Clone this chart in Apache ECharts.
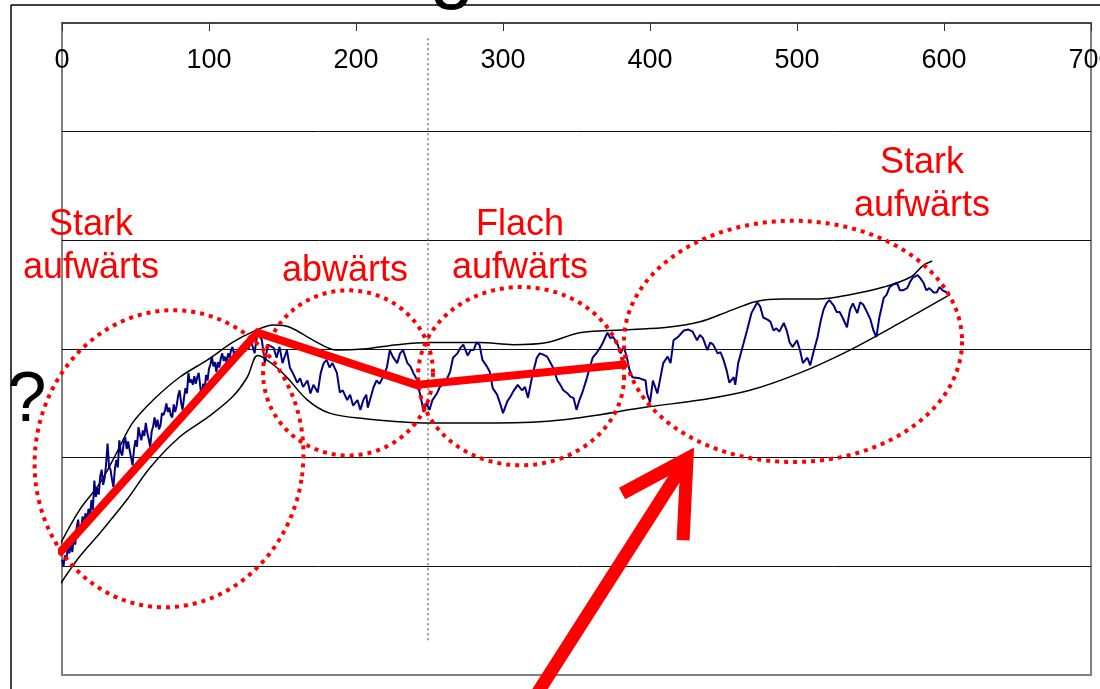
<!DOCTYPE html>
<html><head><meta charset="utf-8">
<script src="https://cdn.jsdelivr.net/npm/echarts@6/dist/echarts.min.js"></script>
<style>html,body{margin:0;padding:0;background:#fff;overflow:hidden}#c{width:1100px;height:689px}</style>
</head><body><div id="c"></div>
<script>
// ---- data (x = Tage, y = Kursniveau, arbitrary units) ----
const xAxisMin = 0, xAxisMax = 700, xAxisStep = 100;
const yAxisMin = 0, yAxisMax = 60, yAxisStep = 10;

const price = [
 [0,10.6],[1,10.0],[2,11.0],[3,10.6],[4,11.8],[5,11.2],[6,12.2],[7,11.3],[8,12.6],[9,12.0],
 [10,13.6],[11,14.3],[12,12.9],[13,13.3],[14,14.6],[15,13.8],[16,14.9],[17,14.0],[18,15.3],[19,14.4],
 [20,16.1],[21,15.2],[22,17.9],[23,16.4],[24,17.2],[25,16.6],[26,18.3],[27,18.9],[28,17.5],[29,18.1],
 [30,19.4],[31,21.3],[32,19.2],[33,18.9],[34,18.0],[35,17.3],[36,19.0],[37,19.8],[38,19.1],[39,21.6],
 [40,20.5],[41,20.2],[42,21.4],[43,21.9],[44,20.8],[45,21.5],[46,20.7],[47,20.0],[48,19.3],[49,20.8],
 [50,21.6],[51,21.0],[52,22.8],[53,22.1],[54,21.6],[55,22.5],[56,22.0],[57,23.2],[58,22.3],[59,21.7],
 [60,21.0],[61,22.4],[62,22.9],[63,23.7],[64,22.8],[65,23.5],[66,22.6],[67,23.0],[68,24.1],[69,23.9],
 [70,24.3],[71,25.0],[72,24.2],[73,24.6],[74,23.9],[75,23.7],[76,24.9],[77,24.2],[78,24.8],[79,25.7],
 [80,26.2],[81,25.1],[82,24.4],[83,25.5],[84,26.4],[85,25.9],[86,27.8],[87,26.9],[88,27.2],[89,26.7],
 [90,27.5],[91,26.8],[92,27.4],[93,27.8],[94,26.6],[95,25.6],[96,26.8],[97,26.2],[98,27.6],[99,27.1],
 [100,28.2],[101,28.6],[102,29.3],[103,28.4],[104,28.8],[105,27.9],[106,28.8],[107,28.3],[108,29.1],[109,29.6],
 [110,28.9],[111,29.3],[112,28.7],[113,29.6],[114,29.2],[115,29.9],[116,30.2],[117,29.5],[118,29.8],[119,29.2],
 [120,30.0],[121,29.6],[122,30.3],[123,29.9],[124,30.6],[125,29.8],[126,30.4],[127,30.0],[128,30.9],[129,30.8],
 [130,30.1],[131,29.6],[132,30.6],[133,31.5],
 [136,30.8],[138,28.7],[140,30.4],[144,30.1],[146,29.2],[148,30.2],[150,28.7],[153,29.9],[155,28.3],[157,27.8],
 [160,26.9],[162,27.3],[164,26.5],[167,27.1],[169,25.9],[171,26.7],[174,26.0],[176,27.8],[178,28.7],[180,29.0],
 [182,28.3],[184,28.7],[187,27.8],[189,26.0],[191,26.2],[194,25.3],[196,25.8],[198,24.8],[201,25.3],[203,24.4],
 [205,25.3],[207,25.8],[208,24.6],[212,26.5],[214,27.1],[216,26.8],[218,27.3],[221,28.3],[223,29.9],[225,29.3],
 [228,28.7],[230,29.6],[232,29.9],[235,28.7],[237,28.4],[239,27.8],[241,27.3],[244,25.6],[246,24.2],[248,25.0],
 [250,24.4],[252,25.3],[255,25.9],[257,26.5],
 [261,27.0],[264,27.9],[266,29.2],[269,29.6],[271,30.1],[273,30.4],[276,29.4],[278,29.9],[280,29.9],[282,30.6],
 [284,30.4],[286,29.0],[289,28.4],[291,27.9],[293,26.4],[296,25.8],[298,25.0],[300,24.1],[303,25.2],[305,25.6],
 [307,26.1],[310,26.7],[313,26.2],[315,26.5],[317,25.5],[320,27.6],[323,29.2],[325,29.6],[327,29.5],[330,29.3],
 [332,28.8],[334,28.3],[337,27.1],[339,26.7],[341,26.2],[344,25.9],[346,25.6],[348,25.5],[350,24.4],[352,25.3],
 [354,26.0],[357,27.3],[359,28.3],[361,29.2],[364,29.7],[366,30.1],[368,30.6],[371,31.5],[373,31.0],[375,31.1],
 [378,30.4],[380,29.6],[382,30.2],[384,29.4],[386,28.1],[388,27.4],[393,27.3],[397,27.1],[398,25.9],[400,25.1],
 [402,27.1],[405,25.9],[407,27.3],[409,28.7],[412,29.3],[414,28.7],[416,30.8],[419,31.1],[423,31.7],[426,31.8],
 [429,31.6],[432,30.8],[434,31.3],[436,31.0],[439,29.9],[441,30.6],[443,30.4],[446,29.6],[448,29.7],[450,29.0],
 [452,28.1],[454,26.9],[457,27.4],[458,26.7],[460,28.7],[463,30.2],[466,31.7],[469,33.3],[473,34.3],[475,33.9],
 [477,32.9],[480,32.7],[482,32.5],[484,31.7],[486,31.9],[488,31.6],[491,32.4],[493,31.7],[495,30.6],[497,30.2],
 [500,30.8],[502,29.9],[504,28.7],[507,29.2],[509,28.5],[511,29.6],[514,31.1],[516,32.5],[518,33.6],[520,34.2],
 [522,34.5],[525,34.0],[527,33.4],[529,33.4],[531,32.9],[534,32.0],[536,33.6],[538,34.2],[541,33.3],[543,34.3],
 [545,34.1],[548,33.3],[550,32.7],[552,31.7],[554,31.1],[556,32.9],[559,34.7],[561,35.0],[563,35.7],[565,35.9],
 [568,36.1],[570,35.4],[572,35.4],[575,35.6],[577,36.2],[579,36.6],[582,36.8],[584,36.5],[586,36.1],[588,35.4],
 [590,35.6],[593,35.2],[595,35.2],[597,35.7],[599,35.4],[602,35.2]
];

const upperBand = [
 [-1,12.1],[12,15.2],[26,17.7],[37,20.4],[48,23.2],[62,25.3],[80,27.4],[99,29.0],[116,30.6],[130,31.6],
 [144,32.2],[155,32.0],[171,30.8],[187,29.9],[205,30.0],[228,30.4],[250,30.6],[284,30.6],[307,30.4],[330,30.6],
 [352,31.5],[371,31.7],[388,31.8],[412,32.0],[434,32.5],[456,33.6],[473,34.4],[490,34.6],[514,34.6],[536,35.0],
 [559,35.7],[577,36.6],[586,37.7],[592,38.1]
];

const lowerBand = [
 [-1,8.4],[12,10.9],[26,13.1],[44,16.1],[60,19.1],[80,21.9],[99,23.7],[116,25.6],[126,27.4],[133,29.4],
 [137,29.2],[146,28.3],[153,27.4],[167,25.3],[182,24.1],[205,23.6],[250,23.2],[296,23.2],[341,23.5],[400,24.7],
 [434,25.3],[468,26.2],[502,27.8],[536,29.9],[570,32.4],[604,35.0]
];

const trendLine = [[-2.5,11.1],[133,31.5],[241,26.7],[384,28.6]];
const splitDay = [[249,58.6],[249,3.0]];

// ellipse: centre x, centre y, radius x, radius y, tilt (deg)
const ellipses = [
 [72.8,19.9,91.2,13.7,9],
 [194.6,27.8,57.8,7.6,0],
 [312.3,27.5,70.1,8.2,0],
 [497.3,30.7,115.0,11.1,0]
];

const phaseLabels = ['Stark\naufwärts','abwärts','Flach\naufwärts','Stark\naufwärts'];
const phaseLabelPos = [[19.7,39.4],[192.5,37.2],[311.6,39.4],[585,45.1]];

const arrowShaft = [[320.4,-2.3],[425.2,19.9]];
const arrowHead = [[381,16.7],[425.2,19.9],[422.5,12.4]];

// ---- chart ----
const chart = echarts.init(document.getElementById('c'), null, {renderer:'canvas'});
const FONT = 'Liberation Sans, Arial, sans-serif';

chart.setOption({
  animation:false,
  backgroundColor:'#fff',
  grid:{left:62,right:9,top:23,bottom:14,show:true,borderColor:'#808080',borderWidth:2,backgroundColor:'transparent',
        containLabel:false,outerBoundsMode:'none'},
  xAxis:{
    type:'value', position:'top', min:xAxisMin, max:xAxisMax, interval:xAxisStep, z:3,
    axisLine:{show:true,onZero:false,lineStyle:{color:'#333',width:1.5}},
    axisTick:{show:true,inside:true,length:8,lineStyle:{color:'#333',width:1}},
    axisLabel:{inside:true,margin:24,fontSize:27,color:'#000',fontFamily:FONT,showMaxLabel:true,showMinLabel:true,hideOverlap:false},
    splitLine:{show:false}
  },
  yAxis:{
    type:'value', min:yAxisMin, max:yAxisMax, interval:yAxisStep,
    axisLine:{show:false,onZero:false}, axisTick:{show:false}, axisLabel:{show:false},
    splitLine:{show:true,lineStyle:{color:['transparent','#111','#111','#111','#111','#111','transparent'],width:1}}
  },
  graphic:[
    {type:'line',shape:{x1:11,y1:5,x2:1100,y2:5},style:{stroke:'#000',lineWidth:1.5},z:100},
    {type:'line',shape:{x1:11,y1:5,x2:11,y2:689},style:{stroke:'#000',lineWidth:1.5},z:100},
    {type:'text',x:452,y:-29,style:{text:'g',font:'80px '+FONT,fill:'#000',align:'center',verticalAlign:'middle'},z:101},
    {type:'text',x:27,y:402,style:{text:'?',font:'70px '+FONT,fill:'#000',align:'center',verticalAlign:'middle'},z:101}
  ],
  series:[
    {type:'line',data:splitDay,showSymbol:false,silent:true,lineStyle:{color:'#999',width:2,type:[2,3]},z:1},
    {type:'line',data:upperBand,smooth:0.35,showSymbol:false,clip:false,lineStyle:{color:'#000',width:1.5},z:2},
    {type:'line',data:lowerBand,smooth:0.35,showSymbol:false,clip:false,lineStyle:{color:'#000',width:1.5},z:2},
    {type:'line',data:price,showSymbol:false,lineStyle:{color:'#000080',width:2},z:3},
    {type:'line',data:trendLine,showSymbol:false,clip:false,lineStyle:{color:'#ff0000',width:8,cap:'butt',join:'miter'},z:4},
    {type:'custom',data:ellipses,clip:false,z:5,
     renderItem:function(params,api){
       const c=api.coord([api.value(0),api.value(1)]);
       const s=api.size([api.value(2),api.value(3)]);
       const a=api.value(4)*Math.PI/180;
       const pts=[];
       for(let i=0;i<=180;i++){const t=i/180*2*Math.PI;const x=s[0]*Math.cos(t),y=s[1]*Math.sin(t);
         pts.push([c[0]+x*Math.cos(a)-y*Math.sin(a),c[1]+x*Math.sin(a)+y*Math.cos(a)]);}
       return {type:'polyline',shape:{points:pts},style:{fill:null,stroke:'#ff0000',lineWidth:4,lineDash:[4,5]}};
     }},
    {type:'scatter',data:phaseLabelPos.map((p,i)=>({value:p,label:{formatter:phaseLabels[i]}})),symbolSize:0,z:6,
     itemStyle:{opacity:1},
     label:{show:true,position:'inside',fontSize:36,lineHeight:43,color:'#ff0000',opacity:1,fontFamily:FONT,align:'center',verticalAlign:'middle'}},
    {type:'line',data:arrowShaft,showSymbol:false,clip:false,lineStyle:{color:'#ff0000',width:13,cap:'butt'},z:7},
    {type:'line',data:arrowHead,showSymbol:false,clip:false,lineStyle:{color:'#ff0000',width:13,cap:'butt',join:'miter'},z:7}
  ]
});
</script></body></html>
